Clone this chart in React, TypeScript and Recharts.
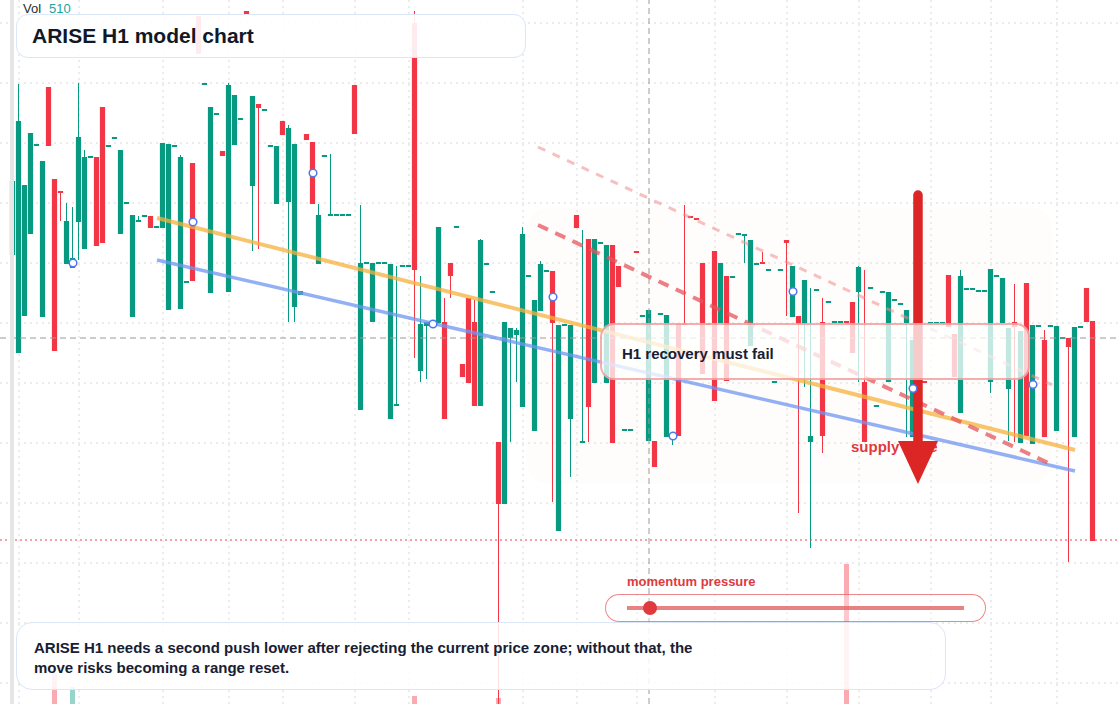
import React from "react";
import {
  ComposedChart,
  Bar,
  Scatter,
  XAxis,
  YAxis,
  CartesianGrid,
  ReferenceLine,
  ReferenceArea,
  ReferenceDot,
} from "recharts";

const UP = "#089981";
const DOWN = "#f23645";
const FONT = "'Liberation Sans', Arial, Helvetica, sans-serif";

// H1 bars, oldest first (price units)
const opens = [
  745, 647, 684, 766, 854, 683, 913, 821, 809, 736,
  732, 778, 751, 842, 843, 893, 853, 861, 766, 796,
  683, 778, 783, 784, 772, 772, 690, 853, 691, 717,
  837, 984, 915, 707, 885, 849, 708, 855, 880, 989,
  814, 896, 889, 853, 796, 879, 798, 693, 705, 866,
  858, 736, 843, 784, 784, 784, 784, 915, 590, 736,
  678, 736, 736, 581, 594, 733, 733, 977, 629, 674,
  675, 677, 678, 737, 772, 636, 702, 678, 594, 735,
  707, 558, 496, 662, 665, 593, 723, 569, 689, 728,
  729, 469, 674, 581, 785, 557, 761, 617, 756, 617,
  755, 734, 569, 569, 749, 683, 559, 559, 685, 563,
  563, 676, 677, 784, 782, 737, 677, 749, 677, 724,
  722, 765, 764, 654, 735, 738, 729, 617, 729, 760,
  683, 684, 676, 558, 709, 678, 697, 677, 677, 679,
  698, 708, 618, 711, 593, 707, 618, 699, 695, 677,
  563, 617, 619, 676, 676, 676, 725, 666, 587, 710,
  710, 708, 708, 618, 723, 677, 611, 678, 557, 717,
  556, 673, 660, 673, 569, 661, 662, 563, 672, 712,
  679,
];

const closes = [
  819, 879, 815, 867, 856, 839, 854, 649, 807, 779,
  742, 863, 843, 844, 754, 757, 855, 863, 850, 798,
  785, 780, 785, 772, 774, 857, 856, 855, 843, 719,
  719, 946, 917, 893, 887, 844, 915, 905, 882, 986,
  904, 892, 891, 855, 854, 865, 872, 856, 709, 860,
  796, 785, 845, 786, 786, 786, 786, 866, 737, 738,
  737, 738, 738, 736, 596, 735, 735, 730, 676, 678,
  677, 773, 581, 724, 774, 623, 617, 594, 760, 737,
  709, 496, 678, 672, 670, 766, 725, 700, 736, 730,
  677, 675, 676, 675, 772, 559, 593, 761, 758, 755,
  557, 713, 571, 571, 747, 685, 690, 533, 687, 685,
  565, 564, 675, 782, 780, 626, 675, 599, 737, 619,
  724, 767, 766, 760, 737, 736, 731, 619, 731, 757,
  734, 676, 720, 564, 711, 564, 699, 679, 679, 677,
  647, 733, 558, 713, 595, 709, 708, 701, 697, 690,
  660, 619, 617, 678, 678, 678, 673, 623, 724, 712,
  712, 710, 710, 731, 725, 722, 672, 673, 669, 564,
  675, 675, 563, 675, 674, 663, 653, 673, 674, 678,
  459,
];

const highs = [
  819, 916, 815, 867, 856, 839, 913, 821, 809, 797,
  793, 917, 850, 844, 843, 893, 855, 863, 850, 798,
  785, 784, 785, 784, 774, 857, 856, 855, 845, 719,
  837, 984, 917, 893, 887, 849, 917, 905, 882, 989,
  904, 896, 891, 855, 854, 879, 875, 856, 709, 866,
  858, 796, 845, 846, 786, 786, 786, 915, 795, 738,
  737, 738, 738, 736, 734, 735, 735, 989, 724, 678,
  677, 773, 702, 737, 774, 636, 702, 700, 761, 737,
  709, 558, 678, 672, 672, 773, 725, 700, 739, 730,
  729, 675, 676, 675, 785, 770, 761, 761, 758, 755,
  755, 734, 571, 571, 749, 685, 690, 559, 687, 685,
  565, 676, 795, 784, 782, 737, 677, 749, 737, 724,
  724, 767, 766, 760, 737, 748, 731, 619, 731, 760,
  734, 684, 720, 712, 711, 702, 699, 679, 679, 679,
  698, 734, 730, 713, 595, 709, 708, 701, 697, 690,
  660, 619, 619, 678, 678, 678, 725, 666, 730, 712,
  712, 710, 710, 731, 725, 722, 672, 716, 669, 717,
  675, 675, 670, 675, 674, 663, 662, 673, 674, 712,
  679,
];

const lows = [
  745, 647, 684, 766, 854, 683, 854, 649, 779, 736,
  732, 740, 751, 842, 754, 757, 853, 861, 766, 796,
  683, 778, 783, 772, 772, 772, 690, 853, 691, 717,
  719, 946, 915, 707, 885, 844, 708, 855, 880, 986,
  749, 751, 889, 853, 796, 865, 678, 678, 705, 860,
  796, 736, 843, 784, 784, 784, 784, 866, 590, 736,
  678, 736, 736, 581, 594, 733, 733, 642, 618, 621,
  675, 677, 581, 702, 772, 623, 617, 594, 594, 735,
  707, 296, 496, 558, 618, 593, 723, 569, 689, 728,
  498, 469, 674, 523, 772, 557, 558, 617, 756, 617,
  557, 713, 569, 569, 747, 683, 559, 533, 685, 563,
  555, 564, 675, 782, 780, 626, 675, 599, 677, 619,
  722, 765, 737, 654, 735, 736, 729, 617, 729, 684,
  683, 487, 613, 452, 709, 547, 697, 677, 677, 677,
  647, 618, 558, 711, 593, 707, 618, 699, 695, 563,
  563, 617, 617, 676, 676, 676, 673, 623, 587, 710,
  710, 708, 708, 607, 723, 677, 559, 558, 557, 564,
  556, 673, 563, 673, 569, 661, 438, 563, 672, 678,
  459,
];

// only these bars show any visible volume
const volumeIdx = [7, 10, 67, 81, 139];
const volumeVals = [160, 85, 40, 30, 700];

// hollow markers on the body middle
const markerIdx = [10, 30, 50, 70, 90, 110, 130, 150, 170];

// session separators and price grid
const gridBars = [1, 11, 25, 36, 45, 57, 66, 85, 94, 104, 117, 129, 141, 153, 163, 174];
const gridPrices = [317, 377, 437, 497, 557, 617, 677, 737, 797, 857, 917, 977];

const crossBar = 106;
const crossPrice = 662;
const stopPrice = 460;

const orangeTrend = [{ x: 24, y: 782 }, { x: 177, y: 550 }];
const blueTrend = [{ x: 24, y: 740 }, { x: 177, y: 529 }];
const redChannel = [{ x: 87.5, y: 775 }, { x: 173.3, y: 535 }];
const paleChannel = [{ x: 87.5, y: 853 }, { x: 173.2, y: 615 }];
const zone = { x1: 85.6, x2: 173.2, y1: 516, y2: 793 };
const arrowBar = 150.83;
const arrowFrom = 805;
const arrowTo = 559;
const supplyLabel = { x: 139.67, y: 548 };

const X_DOMAIN = [-2.1667, 184.5];
const Y_DOMAIN = [296, 1000];
const VOL_DOMAIN = [0, 3520];

const data = opens.map((open, i) => {
  const v = volumeIdx.indexOf(i);
  return {
    i,
    open,
    close: closes[i],
    high: highs[i],
    low: lows[i],
    vol: v >= 0 ? volumeVals[v] : 0,
  };
});

const markers = markerIdx.map((k) => ({ i: k, mid: (opens[k] + closes[k]) / 2 }));

const Candle = (props: any) => {
  const { x, y, width, height, payload } = props;
  if (!payload) return null;
  const { open, close, high, low } = payload;
  const top = Math.min(y, y + height);
  const span = Math.abs(height);
  const ppu = high !== low ? span / (high - low) : 0;
  const py = (v: number) => top + (high - v) * ppu;
  const color = close >= open ? UP : DOWN;
  const cx = x + width / 2;
  const bodyTop = py(Math.max(open, close));
  const bodyH = Math.max(2, Math.abs(py(open) - py(close)));
  return (
    <g>
      <line x1={cx} x2={cx} y1={top} y2={top + span} stroke={color} strokeWidth={1} />
      <rect x={cx - 2.6} y={bodyTop} width={5.2} height={bodyH} fill={color} />
    </g>
  );
};

const VolumeBar = (props: any) => {
  const { x, y, width, height, payload } = props;
  if (!payload || !payload.vol) return null;
  const color = payload.close >= payload.open ? UP : DOWN;
  return (
    <rect
      x={x + width / 2 - 2.5}
      y={Math.min(y, y + height)}
      width={5}
      height={Math.abs(height)}
      fill={color}
      fillOpacity={0.42}
    />
  );
};

export default function App() {
  return (
    <div
      style={{
        position: "absolute",
        left: 0,
        top: 0,
        width: 1120,
        height: 704,
        background: "#fff",
        overflow: "hidden",
        fontFamily: FONT,
      }}
    >
      <ComposedChart width={1120} height={704} data={data} margin={{ top: 0, right: 0, bottom: 0, left: 0 }}>
        <CartesianGrid stroke="#d8d8d8" strokeDasharray="2 4" syncWithTicks />
        <XAxis dataKey="i" type="number" domain={X_DOMAIN} ticks={gridBars} interval={0} allowDataOverflow hide />
        <YAxis type="number" domain={Y_DOMAIN} ticks={gridPrices} interval={0} allowDataOverflow hide />
        <XAxis xAxisId="vol" dataKey="i" type="number" domain={X_DOMAIN} allowDataOverflow hide />
        <YAxis yAxisId="vol" type="number" domain={VOL_DOMAIN} allowDataOverflow hide />

        <ReferenceLine x={crossBar} stroke="#9a9a9a" strokeDasharray="6 4" />
        <ReferenceLine y={crossPrice} stroke="#9a9a9a" strokeDasharray="6 4" />
        <ReferenceLine y={stopPrice} stroke="#f0414b" strokeDasharray="2 3" />

        <Bar
          xAxisId="vol"
          yAxisId="vol"
          dataKey="vol"
          barSize={5}
          shape={VolumeBar}
          isAnimationActive={false}
        />
        <Bar
          dataKey={(d: any) => [d.low, d.high]}
          barSize={5}
          shape={Candle}
          isAnimationActive={false}
        />

        <ReferenceArea
          x1={zone.x1}
          x2={zone.x2}
          y1={zone.y1}
          y2={zone.y2}
          shape={(p: any) => (
            <rect x={p.x} y={p.y} width={p.width} height={p.height} rx={22} fill="#fbe9dc" fillOpacity={0.1} />
          )}
        />

        <ReferenceLine segment={paleChannel} stroke="#f08c8c" strokeOpacity={0.55} strokeWidth={3} strokeDasharray="8 8" />
        <ReferenceLine segment={orangeTrend} stroke="#f6b23e" strokeOpacity={0.75} strokeWidth={4} />
        <ReferenceLine segment={blueTrend} stroke="#6f95f2" strokeOpacity={0.75} strokeWidth={3.5} />
        <ReferenceLine segment={redChannel} stroke="#e4545c" strokeOpacity={0.75} strokeWidth={4} strokeDasharray="11 8" />

        <Scatter
          data={markers}
          dataKey="mid"
          isAnimationActive={false}
          shape={(p: any) => (
            <circle cx={p.cx} cy={p.cy} r={3.8} fill="#fff" stroke="#4f78f0" strokeWidth={1.5} />
          )}
        />

        <ReferenceDot
          x={supplyLabel.x}
          y={supplyLabel.y}
          shape={(p: any) => (
            <text x={p.cx} y={p.cy} fill="#e0393e" fontSize={15} fontWeight={700} fontFamily={FONT}>
              supply zone
            </text>
          )}
        />
        <ReferenceLine
          segment={[{ x: arrowBar, y: arrowFrom }, { x: arrowBar, y: arrowTo }]}
          stroke="#dc2626"
          strokeWidth={9.5}
          strokeLinecap="round"
        />
        <ReferenceDot
          x={arrowBar}
          y={arrowTo}
          shape={(p: any) => (
            <polygon
              points={`${p.cx - 20},${p.cy} ${p.cx + 20},${p.cy} ${p.cx},${p.cy + 43}`}
              fill="#dc2626"
            />
          )}
        />
      </ComposedChart>

      {/* left scale edge */}
      <div style={{ position: "absolute", left: 10, top: 0, width: 4, height: 704, background: "#e6e6e6" }} />

      <div style={{ position: "absolute", left: 23, top: 1, fontSize: 13, lineHeight: "15px", color: "#2b2b2b" }}>
        Vol<span style={{ color: "#22a39a", marginLeft: 8 }}>510</span>
      </div>

      <div
        style={{
          position: "absolute",
          left: 16,
          top: 14,
          width: 510,
          height: 44,
          boxSizing: "border-box",
          border: "1.5px solid #dbe6f7",
          borderRadius: 12,
          background: "rgba(255,255,255,0.9)",
          display: "flex",
          alignItems: "center",
          paddingLeft: 15,
          fontSize: 21,
          fontWeight: 700,
          color: "#111827",
        }}
      >
        ARISE H1 model chart
      </div>

      <div
        style={{
          position: "absolute",
          left: 600,
          top: 323,
          width: 430,
          height: 57,
          boxSizing: "border-box",
          border: "2px solid rgba(236,120,120,0.6)",
          borderRadius: 14,
          background: "rgba(255,255,255,0.76)",
          display: "flex",
          alignItems: "center",
          paddingLeft: 20,
          paddingTop: 3,
          fontSize: 15,
          fontWeight: 700,
          color: "#172033",
        }}
      >
        H1 recovery must fail
      </div>

      <div
        style={{
          position: "absolute",
          left: 627,
          top: 574,
          fontSize: 13,
          fontWeight: 700,
          color: "#e0393e",
          lineHeight: "16px",
        }}
      >
        momentum pressure
      </div>
      <div
        style={{
          position: "absolute",
          left: 605,
          top: 594,
          width: 381,
          height: 28,
          boxSizing: "border-box",
          border: "1.5px solid rgba(224,57,62,0.6)",
          borderRadius: 14,
          background: "rgba(255,255,255,0.35)",
        }}
      >
        <div
          style={{
            position: "absolute",
            left: 21,
            top: 10.5,
            width: 337,
            height: 4,
            background: "rgba(226,100,100,0.8)",
          }}
        />
        <div
          style={{
            position: "absolute",
            left: 37,
            top: 5.5,
            width: 14,
            height: 14,
            borderRadius: 7,
            background: "#e0393e",
          }}
        />
      </div>

      <div
        style={{
          position: "absolute",
          left: 16,
          top: 622,
          width: 930,
          height: 68,
          boxSizing: "border-box",
          border: "1.5px solid #dbe6f7",
          borderRadius: 16,
          background: "rgba(255,255,255,0.86)",
          display: "flex",
          alignItems: "center",
          paddingLeft: 17,
          paddingTop: 4,
        }}
      >
        <div style={{ width: 680, fontSize: 15, fontWeight: 700, lineHeight: "20px", color: "#172033" }}>
          ARISE H1 needs a second push lower after rejecting the current price zone; without that, the move risks
          becoming a range reset.
        </div>
      </div>
    </div>
  );
}
